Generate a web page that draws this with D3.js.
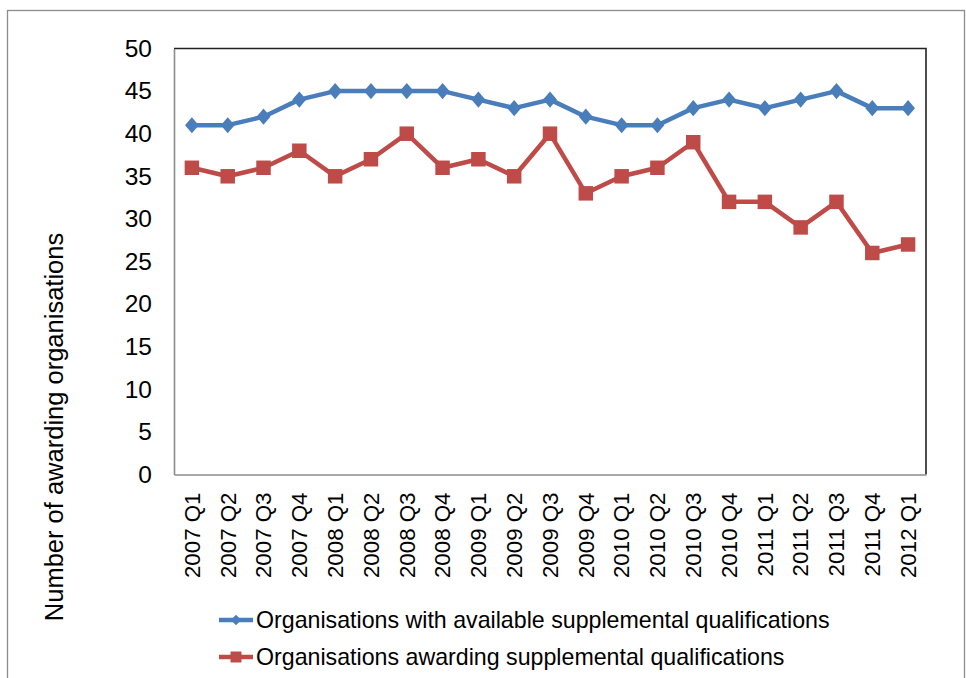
<!DOCTYPE html>
<html>
<head>
<meta charset="utf-8">
<script src="https://cdn.jsdelivr.net/npm/d3@7"></script>
<style>
  body { margin: 0; background: #fff; }
  text { font-family: "Liberation Sans", Arial, sans-serif; fill: #000; }
</style>
</head>
<body>
<div id="chart-area"></div>
<script>
// categories (quarters)
let quarters = ["2007 Q1","2007 Q2","2007 Q3","2007 Q4","2008 Q1","2008 Q2","2008 Q3","2008 Q4",
    "2009 Q1","2009 Q2","2009 Q3","2009 Q4","2010 Q1","2010 Q2","2010 Q3","2010 Q4",
    "2011 Q1","2011 Q2","2011 Q3","2011 Q4","2012 Q1"];

// series values
let available = [41,41,42,44,45,45,45,45,44,43,44,42,41,41,43,44,43,44,45,43,43];
let awarding  = [36,35,36,38,35,37,40,36,37,35,40,33,35,36,39,32,32,29,32,26,27];

let yTicks = [0,5,10,15,20,25,30,35,40,45,50];

let seriesNames = ["Organisations with available supplemental qualifications",
    "Organisations awarding supplemental qualifications"];

let W = 966, H = 678;
let margin = { left:174, right:40, top:48.5, bottom:203.5 };
let width = W - margin.left - margin.right,
    height = H - margin.top - margin.bottom;

let svg = d3.select("#chart-area")
    .append("svg")
    .attr("width", W)
    .attr("height", H);

// outer chart border
svg.append("rect")
    .attr("x", 7.5).attr("y", 10.5)
    .attr("width", 957).attr("height", 700)
    .attr("fill", "none")
    .attr("stroke", "#8c8c8c")
    .attr("stroke-width", 1.3);

let g = svg.append("g")
    .attr("transform", "translate(" + margin.left + "," + margin.top + ")");

// X Scale
let x = d3.scaleBand()
    .domain(quarters)
    .range([0, width]);

// Y Scale
let y = d3.scaleLinear()
    .domain([0, 50])
    .range([height, 0]);

// plot area border (top/right dark)
g.append("path")
    .attr("d", "M0,0H" + width + "V" + height)
    .attr("fill", "none")
    .attr("stroke", "#222")
    .attr("stroke-width", 1.6);

// Y Axis
let yAxisCall = d3.axisLeft(y)
    .tickValues(yTicks)
    .tickSize(0)
    .tickPadding(22);
let yAxis = g.append("g")
    .attr("class", "y axis")
    .call(yAxisCall);
yAxis.select(".domain").attr("stroke", "#8c8c8c").attr("stroke-width", 1.6);
yAxis.selectAll("text").attr("font-size", "24.5px");

// X Axis
let xAxisCall = d3.axisBottom(x).tickSize(0).tickPadding(0);
let xAxis = g.append("g")
    .attr("class", "x axis")
    .attr("transform", "translate(0," + height + ")")
    .call(xAxisCall);
xAxis.select(".domain").attr("stroke", "#8c8c8c").attr("stroke-width", 1.6);
xAxis.selectAll("text")
    .attr("font-size", "22.3px")
    .attr("text-anchor", "end")
    .attr("dy", "0.35em")
    .attr("y", 0)
    .attr("x", -18)
    .attr("transform", "rotate(-90)");

// Y Label
svg.append("text")
    .attr("transform", "translate(63," + 427 + ") rotate(-90)")
    .attr("text-anchor", "middle")
    .attr("font-size", "25.5px")
    .text("Number of awarding organisations");

let cx = function(i){ return x(quarters[i]) + x.bandwidth() / 2; };

let colors = ["#4a7ebb", "#be4b48"];
let diamond = d3.symbol().type(d3.symbolDiamond2).size(150);
let square = d3.symbol().type(d3.symbolSquare).size(210);

// Lines
[available, awarding].forEach(function(vals, k){
    g.append("path")
        .datum(vals)
        .attr("fill", "none")
        .attr("stroke", colors[k])
        .attr("stroke-width", 4.5)
        .attr("stroke-linejoin", "round")
        .attr("d", d3.line()
            .x(function(d, i){ return cx(i); })
            .y(function(d){ return y(d); }));

    g.selectAll(".mk" + k)
        .data(vals)
        .enter()
        .append("path")
            .attr("class", "mk" + k)
            .attr("fill", colors[k])
            .attr("d", k === 0 ? diamond : square)
            .attr("transform", function(d, i){
                return "translate(" + cx(i) + "," + y(d) + ")" + (k === 0 ? " scale(0.9,1.05)" : "");
            });
});

// Legend
let legendY = [620, 657];
seriesNames.forEach(function(name, k){
    let lg = svg.append("g")
        .attr("transform", "translate(219," + legendY[k] + ")");
    lg.append("line")
        .attr("x1", 0).attr("x2", 34)
        .attr("stroke", colors[k])
        .attr("stroke-width", 4.5);
    lg.append("path")
        .attr("fill", colors[k])
        .attr("d", k === 0 ? d3.symbol().type(d3.symbolDiamond2).size(70) : d3.symbol().type(d3.symbolSquare).size(120))
        .attr("transform", "translate(17,0)");
    lg.append("text")
        .attr("x", 37)
        .attr("dy", "0.35em")
        .attr("font-size", "23.2px")
        .text(name);
});
</script>
</body>
</html>
